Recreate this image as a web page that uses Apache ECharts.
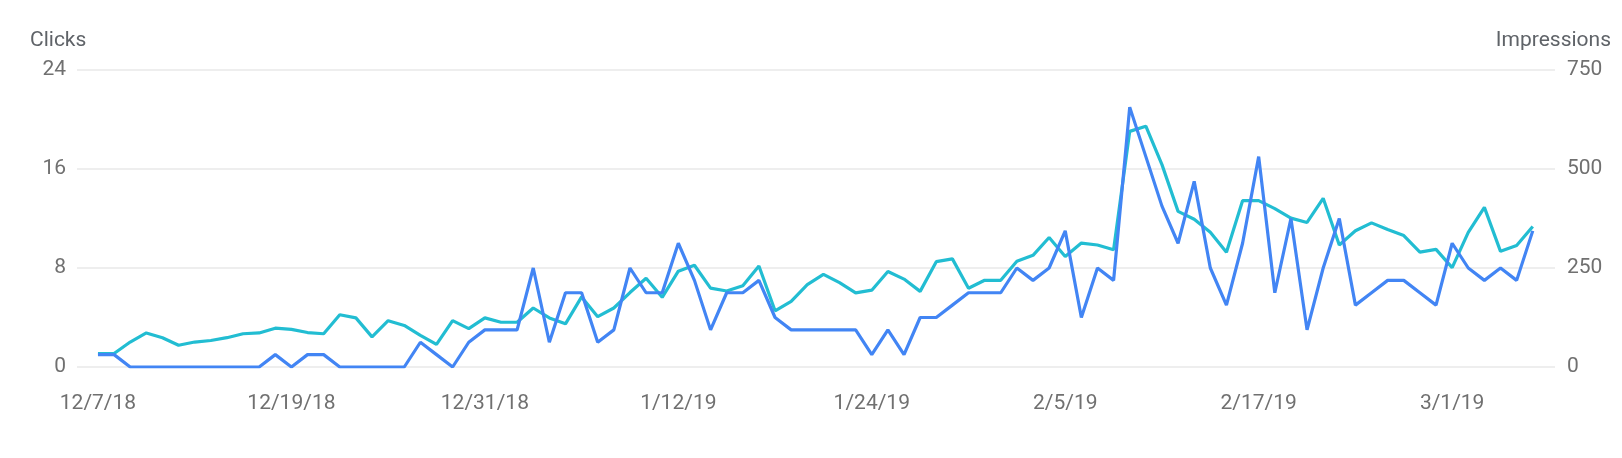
<!DOCTYPE html>
<html>
<head>
<meta charset="utf-8">
<title>Clicks / Impressions</title>
<script src="https://cdn.jsdelivr.net/npm/echarts@6/dist/echarts.min.js"></script>
<style>
  html, body { margin: 0; padding: 0; background: #fff; }
  #chart { width: 1622px; height: 458px; }
</style>
</head>
<body>
<div id="chart"></div>
<script>
// one value per day, 12/7/18 .. 3/6/19
var clicks = [
    1, 1, 0, 0, 0, 0, 0, 0, 0, 0,
    0, 1, 0, 1, 1, 0, 0, 0, 0, 0,
    2, 1, 0, 2, 3, 3, 3, 8, 2, 6,
    6, 2, 3, 8, 6, 6, 10, 7, 3, 6,
    6, 7, 4, 3, 3, 3, 3, 3, 1, 3,
    1, 4, 4, 5, 6, 6, 6, 8, 7, 8,
    11, 4, 8, 7, 21, 17, 13, 10, 15, 8,
    5, 10, 17, 6, 12, 3, 8, 12, 5, 6,
    7, 7, 6, 5, 10, 8, 7, 8, 7, 11
];
var impressions = [
    34, 34, 63, 86, 74, 55, 63, 67, 74, 84,
    86, 98, 95, 87, 84, 132, 124, 76, 117, 105,
    80, 57, 117, 97, 124, 113, 113, 149, 124, 109,
    177, 127, 149, 188, 224, 176, 242, 257, 199, 192,
    205, 255, 142, 166, 208, 234, 213, 187, 194, 241,
    222, 191, 266, 273, 199, 219, 219, 267, 282, 327,
    279, 313, 308, 296, 595, 608, 511, 393, 373, 340,
    290, 420, 420, 400, 376, 365, 426, 308, 344, 364,
    347, 332, 290, 297, 251, 340, 403, 292, 307, 355
];
// x tick labels and the day index they sit on
var tickDays = [0, 12, 24, 36, 48, 60, 72, 84];
var tickLabels = ['12/7/18', '12/19/18', '12/31/18', '1/12/19', '1/24/19', '2/5/19', '2/17/19', '3/1/19'];
var leftTicks = [0, 8, 16, 24];
var rightTicks = [0, 250, 500, 750];

var FONT = 'Roboto, "Noto Sans", sans-serif';
var LABEL_COLOR = '#707070';
var NAME_COLOR = '#5f6368';

function toPairs(arr) {
    var out = [];
    arr.forEach(function(v, i) {
        out.push([i, v]);
    });
    return out;
}

var option = {
    animation: false,
    grid: { left: 77, right: 67, top: 70, bottom: 91 },
    graphic: [
        { type: 'text', left: 30, top: 30,
          style: { text: 'Clicks', font: '21px ' + FONT, fill: NAME_COLOR } },
        { type: 'text', right: 11, top: 30,
          style: { text: 'Impressions', font: '21px ' + FONT, fill: NAME_COLOR } }
    ],
    xAxis: {
        type: 'value',
        min: -1.3,
        max: 90.38,
        axisLine: { show: false },
        axisTick: { show: false },
        splitLine: { show: false },
        axisLabel: {
            customValues: tickDays,
            margin: 26,
            fontFamily: FONT,
            fontSize: 21,
            color: LABEL_COLOR,
            formatter: function(v) {
                var idx = tickDays.indexOf(Math.round(v));
                return idx >= 0 ? tickLabels[idx] : '';
            }
        }
    },
    yAxis: [
        {
            type: 'value',
            min: leftTicks[0],
            max: leftTicks[leftTicks.length - 1],
            interval: 8,
            axisLine: { show: false },
            axisTick: { show: false },
            axisLabel: { margin: 11, fontFamily: FONT, fontSize: 21, color: LABEL_COLOR },
            splitLine: { lineStyle: { color: '#e8e8e8', width: 1.5 } }
        },
        {
            type: 'value',
            min: rightTicks[0],
            max: rightTicks[rightTicks.length - 1],
            interval: 250,
            axisLine: { show: false },
            axisTick: { show: false },
            axisLabel: { margin: 12, fontFamily: FONT, fontSize: 21, color: LABEL_COLOR },
            splitLine: { show: false }
        }
    ],
    series: [
        {
            name: 'Impressions',
            type: 'line',
            yAxisIndex: 1,
            data: toPairs(impressions),
            showSymbol: false,
            lineStyle: { color: '#22bdd2', width: 3.2 },
            itemStyle: { color: '#22bdd2' }
        },
        {
            name: 'Clicks',
            type: 'line',
            yAxisIndex: 0,
            data: toPairs(clicks),
            showSymbol: false,
            lineStyle: { color: '#4285f4', width: 3.2 },
            itemStyle: { color: '#4285f4' }
        }
    ]
};

var chart = echarts.init(document.getElementById('chart'), null, { renderer: 'canvas' });
chart.setOption(option);
</script>
</body>
</html>
